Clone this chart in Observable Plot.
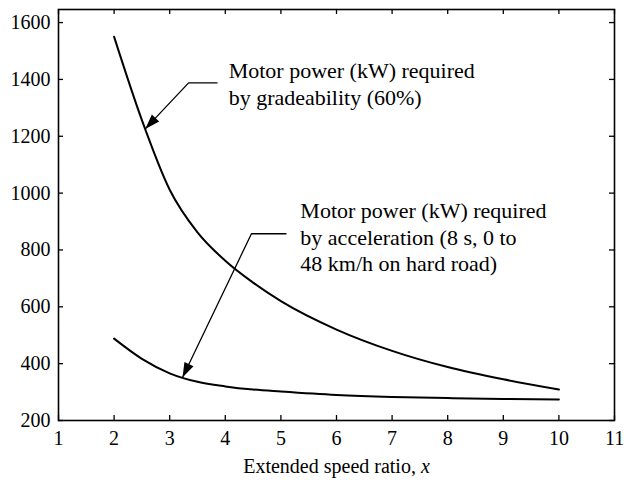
<!DOCTYPE html>
<html><head><meta charset="utf-8">
<script src="https://cdn.jsdelivr.net/npm/d3@7"></script>
<script src="https://cdn.jsdelivr.net/npm/@observablehq/plot@0.6"></script>
<style>body{margin:0;background:#fff;} #chart svg{display:block;}</style>
</head><body><div id="chart"></div>
<script>
// Extended speed ratio x
const ratio = [2, 2.5, 3, 3.5, 4, 4.5, 5, 6, 7, 8, 9, 10];
// Motor power (kW) required by gradeability (60%)
const gradePower = [1550, 1257, 1012, 862, 762, 685, 620, 520, 445, 388, 345, 309];
// Motor power (kW) required by acceleration
const accelPower = [488, 417, 366, 336, 320, 309, 302, 290, 283, 279, 276, 274];

const xTicks = [1, 2, 3, 4, 5, 6, 7, 8, 9, 10, 11];
const yTicks = [200, 400, 600, 800, 1000, 1200, 1400, 1600];
const xLabel = "Extended speed ratio, ";
const xLabelVar = "x";

const gradeText = "Motor power (kW) required\nby gradeability (60%)";
const accelText = "Motor power (kW) required\nby acceleration (8 s, 0 to\n48 km/h on hard road)";
const gradeTextAt = {x: 4.06, y: 1470};
const accelTextAt = {x: 5.35, y: 977};
const gradeLeaderX = [3.86, 3.34, 2.56];
const gradeLeaderY = [1388, 1388, 1226];
const accelLeaderX = [5.10, 4.47, 3.23];
const accelLeaderY = [857, 857, 351];

const W = 624, H = 486, mL = 58, mR = 10, mT = 9, mB = 66;
const fw = W - mL - mR, fh = H - mT - mB;

const grade = ratio.map((x, i) => ({x, y: gradePower[i]}));
const accel = ratio.map((x, i) => ({x, y: accelPower[i]}));
const gLead = gradeLeaderX.map((x, i) => ({x, y: gradeLeaderY[i]}));
const aLead = accelLeaderX.map((x, i) => ({x, y: accelLeaderY[i]}));

const font = "'Liberation Serif', 'Times New Roman', Times, serif";

const plot = Plot.plot({
  width: W, height: H,
  marginLeft: mL, marginRight: mR, marginTop: mT, marginBottom: mB,
  style: {fontFamily: font, fontSize: "20px", color: "black", background: "white"},
  x: {domain: [1, 11]},
  y: {domain: [200, 1646]},
  marks: [
    Plot.axisX({ticks: xTicks, tickSize: 0, tickPadding: 10, tickFormat: d => String(d), fontSize: 20,
      label: xLabel + xLabelVar, labelAnchor: "center", labelOffset: 52, labelArrow: "none"}),
    Plot.axisY({ticks: yTicks, tickSize: 0, tickPadding: 8, tickFormat: d => String(d), fontSize: 20, label: null}),
    Plot.tickX(xTicks, {x: d => d, insetTop: fh - 5, stroke: "black", strokeWidth: 1.3}),
    Plot.tickX(xTicks, {x: d => d, insetBottom: fh - 5, stroke: "black", strokeWidth: 1.3}),
    Plot.tickY(yTicks, {y: d => d, insetRight: fw - 5, stroke: "black", strokeWidth: 1.3}),
    Plot.tickY(yTicks, {y: d => d, insetLeft: fw - 5, stroke: "black", strokeWidth: 1.3}),
    Plot.frame({stroke: "black", strokeWidth: 1.6}),
    Plot.line(grade, {x: "x", y: "y", curve: "monotone-x", stroke: "black", strokeWidth: 2}),
    Plot.line(accel, {x: "x", y: "y", curve: "monotone-x", stroke: "black", strokeWidth: 2}),
    Plot.line(gLead, {x: "x", y: "y", stroke: "black", strokeWidth: 1.3, markerEnd: "arrow", strokeLinecap: "butt"}),
    Plot.line(aLead, {x: "x", y: "y", stroke: "black", strokeWidth: 1.3, markerEnd: "arrow", strokeLinecap: "butt"}),
    Plot.text([gradeTextAt], {x: "x", y: "y", text: () => gradeText, textAnchor: "start", lineAnchor: "top", lineHeight: 1.2, fontSize: 22, fill: "black"}),
    Plot.text([accelTextAt], {x: "x", y: "y", text: () => accelText, textAnchor: "start", lineAnchor: "top", lineHeight: 1.2, fontSize: 22, fill: "black"})
  ]
});

// serif font on every text; tick labels at full size
d3.select(plot).selectAll("text").style("font-family", font);
d3.select(plot).selectAll('g[aria-label="x-axis tick label"] text, g[aria-label="y-axis tick label"] text')
  .style("font-size", "20px");

// filled arrowheads
d3.select(plot).selectAll("marker")
  .attr("viewBox", "-17 -7 19 14")
  .attr("markerWidth", 19).attr("markerHeight", 14)
  .attr("markerUnits", "userSpaceOnUse")
  .attr("fill", "black").attr("stroke", "none")
  .selectAll("path").attr("d", "M-15,-5L0,0L-15,5Z");

// italic variable in the x-axis label
d3.select(plot).selectAll("text").each(function() {
  const t = d3.select(this);
  if (t.text() === xLabel + xLabelVar) {
    t.text(null);
    t.append("tspan").text(xLabel);
    t.append("tspan").attr("font-style", "italic").text(xLabelVar);
  }
});

document.getElementById("chart").appendChild(plot);
</script>
</body></html>
